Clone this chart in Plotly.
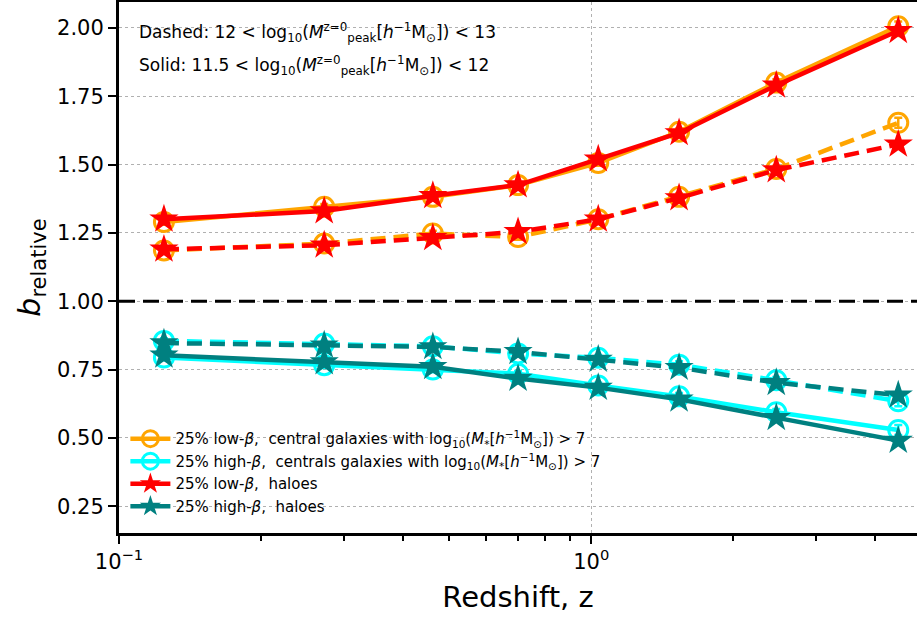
import plotly.graph_objects as go

# ---- data ----
redshift = [0.1245, 0.272, 0.462, 0.700, 1.035, 1.535, 2.466, 4.47]

gal_low_solid = [1.29, 1.346, 1.382, 1.425, 1.506, 1.62, 1.80, 2.006]
gal_low_dashed = [1.186, 1.211, 1.248, 1.235, 1.30, 1.382, 1.484, 1.653]
gal_high_solid = [0.794, 0.766, 0.75, 0.735, 0.692, 0.652, 0.594, 0.529]
gal_high_dashed = [0.855, 0.845, 0.835, 0.809, 0.793, 0.768, 0.711, 0.634]
gal_err = [0.010, 0.010, 0.010, 0.010, 0.010, 0.012, 0.012, 0.018]

halo_low_solid = [1.30, 1.33, 1.386, 1.425, 1.52, 1.616, 1.79, 1.99]
halo_low_dashed = [1.19, 1.205, 1.232, 1.254, 1.30, 1.378, 1.48, 1.574]
halo_high_solid = [0.802, 0.778, 0.76, 0.717, 0.684, 0.641, 0.574, 0.49]
halo_high_dashed = [0.847, 0.839, 0.833, 0.815, 0.787, 0.757, 0.702, 0.656]

legend_names = [
    "25% low-<i>β</i>,  central galaxies with log<sub>10</sub>(<i>M</i><sub>*</sub>[<i>h</i><sup>−1</sup>M<sub>⊙</sub>]) &gt; 7",
    "25% high-<i>β</i>,  centrals galaxies with log<sub>10</sub>(<i>M</i><sub>*</sub>[<i>h</i><sup>−1</sup>M<sub>⊙</sub>]) &gt; 7",
    "25% low-<i>β</i>,  haloes",
    "25% high-<i>β</i>,  haloes",
]
annot_lines = [
    "Dashed: 12 &lt; log<sub>10</sub>(<i>M</i><sup>z=0</sup><sub>peak</sub>[<i>h</i><sup>−1</sup>M<sub>⊙</sub>]) &lt; 13",
    "Solid: 11.5 &lt; log<sub>10</sub>(<i>M</i><sup>z=0</sup><sub>peak</sub>[<i>h</i><sup>−1</sup>M<sub>⊙</sub>]) &lt; 12",
]
ref_level = 1.0

ORANGE = "#FFA500"
CYAN = "#00FFFF"
RED = "#FF0000"
TEAL = "#008080"
FONT = "DejaVu Sans"
DASH = "15px,8px"

fig = go.Figure()


def gal_trace(y, color, dash, name, show):
    return go.Scatter(
        x=redshift, y=y, mode="lines+markers", name=name, legendgroup=name,
        showlegend=show,
        line=dict(color=color, width=4.5, dash=dash),
        marker=dict(symbol="circle-open", size=19, color=color, line=dict(width=3, color=color)),
        error_y=dict(type="data", array=gal_err, color=color, thickness=2.5, width=4, visible=True),
    )


def halo_trace(y, color, dash, name, show):
    return go.Scatter(
        x=redshift, y=y, mode="lines+markers", name=name, legendgroup=name,
        showlegend=show,
        line=dict(color=color, width=4.5, dash=dash),
        marker=dict(symbol="star", size=22, color=color, line=dict(width=0)),
    )


fig.add_trace(gal_trace(gal_low_solid, ORANGE, "solid", legend_names[0], True))
fig.add_trace(gal_trace(gal_low_dashed, ORANGE, DASH, legend_names[0], False))
fig.add_trace(gal_trace(gal_high_solid, CYAN, "solid", legend_names[1], True))
fig.add_trace(gal_trace(gal_high_dashed, CYAN, DASH, legend_names[1], False))
fig.add_trace(halo_trace(halo_low_solid, RED, "solid", legend_names[2], True))
fig.add_trace(halo_trace(halo_low_dashed, RED, DASH, legend_names[2], False))
fig.add_trace(halo_trace(halo_high_solid, TEAL, "solid", legend_names[3], True))
fig.add_trace(halo_trace(halo_high_dashed, TEAL, DASH, legend_names[3], False))

fig.add_hline(y=ref_level, line=dict(color="black", width=3, dash="16px,8px"), layer="above")

fig.add_annotation(xref="paper", yref="paper", x=0.022, y=0.943, xanchor="left", yanchor="middle",
                   text=annot_lines[0], showarrow=False, font=dict(family=FONT, size=17, color="black"))
fig.add_annotation(xref="paper", yref="paper", x=0.022, y=0.88, xanchor="left", yanchor="middle",
                   text=annot_lines[1], showarrow=False, font=dict(family=FONT, size=17, color="black"))

fig.update_layout(
    width=917, height=619,
    margin=dict(l=119, r=0, t=2, b=86),
    plot_bgcolor="white", paper_bgcolor="white",
    font=dict(family=FONT, color="black"),
    legend=dict(x=0.008, y=0.02, xanchor="left", yanchor="bottom",
                bgcolor="rgba(0,0,0,0)", font=dict(family=FONT, size=15),
                tracegroupgap=0, itemwidth=40),
    xaxis=dict(
        type="log", range=[-1, 0.69],
        tickvals=[0.1, 1], ticktext=["10<sup>−1</sup>", "10<sup>0</sup>"],
        tickfont=dict(size=21), ticks="outside", ticklen=8, tickwidth=2, tickcolor="black",
        showline=True, linecolor="black", linewidth=3, mirror=True,
        showgrid=True, gridcolor="#b0b0b0", griddash="dot", gridwidth=1,
        zeroline=False,
        minor=dict(tickvals=[0.2, 0.3, 0.4, 0.5, 0.6, 0.7, 0.8, 0.9, 2, 3, 4],
                   ticks="outside", ticklen=5, tickwidth=1.5, tickcolor="black", showgrid=False),
        title=dict(text="Redshift, z", font=dict(size=29), standoff=14),
    ),
    yaxis=dict(
        range=[0.152, 2.095],
        tickvals=[0.25, 0.5, 0.75, 1.0, 1.25, 1.5, 1.75, 2.0],
        ticktext=["0.25", "0.50", "0.75", "1.00", "1.25", "1.50", "1.75", "2.00"],
        tickfont=dict(size=21), ticks="outside", ticklen=8, tickwidth=2, tickcolor="black",
        showline=True, linecolor="black", linewidth=3,
        showgrid=True, gridcolor="#b0b0b0", griddash="dot", gridwidth=1,
        zeroline=False,
        title=dict(text="<i>b</i><sub>relative</sub>", font=dict(size=30), standoff=8),
    ),
)

fig.write_html("out.html")
